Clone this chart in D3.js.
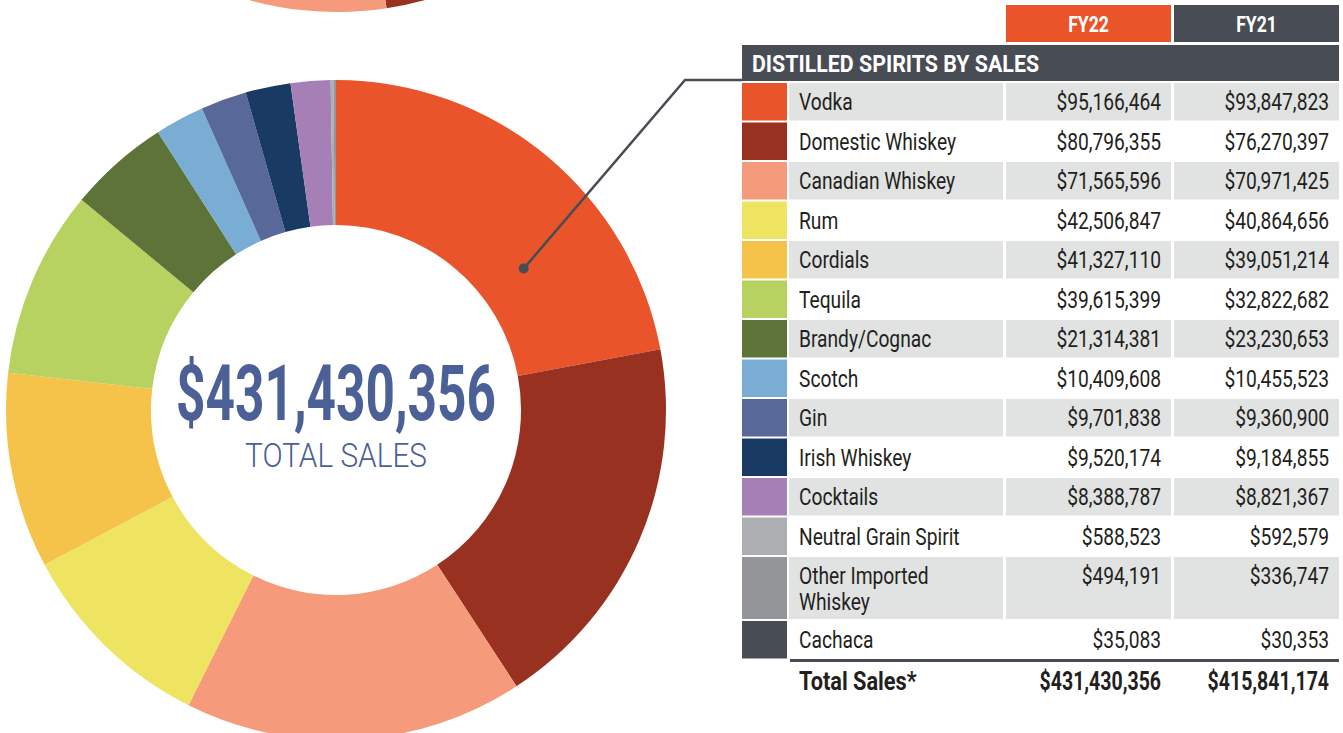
<!DOCTYPE html>
<html>
<head>
<meta charset="utf-8">
<script src="https://cdn.jsdelivr.net/npm/d3@7"></script>
<style>
  body { margin: 0; background: #fff; }
  svg { display: block; font-family: Roboto, "Liberation Sans", sans-serif; }
</style>
</head>
<body>
<svg id="chart" width="1343" height="733"></svg>
<script>
// spirits, in the order they go round the ring (clockwise from 12 o'clock)
const categories = [
  "Vodka", "Domestic Whiskey", "Canadian Whiskey", "Rum", "Cordials", "Tequila",
  "Brandy/Cognac", "Scotch", "Gin", "Irish Whiskey", "Cocktails",
  "Neutral Grain Spirit", "Other Imported\nWhiskey", "Cachaca"
];
const fy22Sales = [
  95166464, 80796355, 71565596, 42506847, 41327110, 39615399,
  21314381, 10409608, 9701838, 9520174, 8388787, 588523, 494191, 35083
];
const fy21Sales = [
  93847823, 76270397, 70971425, 40864656, 39051214, 32822682,
  23230653, 10455523, 9360900, 9184855, 8821367, 592579, 336747, 30353
];
const sliceColors = [
  "#e9542a", "#983120", "#f59a7b", "#efe462", "#f5c34a", "#b7d260",
  "#5e7337", "#7aadd4", "#586899", "#183a63", "#a67fb6",
  "#adaeb1", "#939598", "#474c55"
];
const columnHeads = ["FY22", "FY21"];
const tableTitle = "DISTILLED SPIRITS BY SALES";
const totalLabel = "Total Sales*";
const centerLabel = "TOTAL SALES";

// bottom edge of the previous page chart peeking in at the top (shares, %)
const upperShares = [28.0, 19.6, 16.0, 36.4];
const upperColors = ["#e9542a", "#983120", "#f59a7b", "#efe462"];

const data = categories.map((name, i) => ({
  name: name,
  fy22: fy22Sales[i],
  fy21: fy21Sales[i],
  color: sliceColors[i]
}));

const fmt = d3.format("$,");
const svg = d3.select("#chart");

const INK = "#231f20";
const DARK = "#474c55";
const ROW_GRAY = "#e1e3e2";
const BLUE = "#4b6096";
const SQ = 0.8; // no condensed face installed, so squeeze horizontally

// condensed text helper
function label(g, x, y, str, size, weight, anchor, fill, sq) {
  return g.append("text")
    .attr("transform", `translate(${x},${y}) scale(${sq || SQ},1)`)
    .attr("text-anchor", anchor || "start")
    .style("font-size", size + "px")
    .style("font-weight", weight || "normal")
    .style("fill", fill || INK)
    .text(str);
}

// ---- donut
const CX = 336, CY = 410, R_OUT = 330, R_IN = 185;

const pie = d3.pie().sort(null).value(d => d.fy22);
const arc = d3.arc().innerRadius(R_IN).outerRadius(R_OUT);

// the one from above
const upperG = svg.append("g").attr("transform", `translate(${CX + 1},${CY - 728})`);
upperG.selectAll("path")
  .data(d3.pie().sort(null)(upperShares))
  .enter().append("path")
  .attr("d", arc)
  .attr("fill", (d, i) => upperColors[i]);

const ring = svg.append("g").attr("transform", `translate(${CX},${CY})`);
ring.selectAll("path.slice")
  .data(pie(data))
  .enter().append("path")
  .attr("class", "slice")
  .attr("d", arc)
  .attr("fill", d => d.data.color);

const grandTotal = d3.sum(fy22Sales);
ring.append("text")
  .attr("text-anchor", "middle")
  .attr("y", 10)
  .attr("textLength", 320)
  .attr("lengthAdjust", "spacingAndGlyphs")
  .style("font-size", "77px")
  .style("font-weight", "bold")
  .style("fill", BLUE)
  .text(fmt(grandTotal));
ring.append("text")
  .attr("text-anchor", "middle")
  .attr("y", 57)
  .attr("textLength", 182)
  .attr("lengthAdjust", "spacingAndGlyphs")
  .style("font-size", "33px")
  .style("font-weight", 300)
  .style("fill", BLUE)
  .text(centerLabel);

// ---- table
const X_SWATCH = 742, W_SWATCH = 45;
const X_LABEL = 789, W_LABEL = 214;
const colX = [1006, 1174], W_COL = 165;
const TABLE_RIGHT = 1339;
const ROW_TOP = 83, ROW_H = 37.5, GAP = 2;
const FS = 24;

// column heads
columnHeads.forEach((h, i) => {
  svg.append("rect")
    .attr("x", colX[i]).attr("y", 5)
    .attr("width", W_COL).attr("height", 37)
    .attr("fill", i === 0 ? sliceColors[0] : DARK);
  label(svg, colX[i] + W_COL / 2, 32, h, 22, "bold", "middle", "#fff");
});

svg.append("rect")
  .attr("x", X_SWATCH).attr("y", 45)
  .attr("width", TABLE_RIGHT - X_SWATCH).attr("height", 36)
  .attr("fill", DARK);
label(svg, 752, 72, tableTitle, 24, "bold", "start", "#fff", 0.89);

// row positions (wrapped label -> taller row)
let y = ROW_TOP;
data.forEach(d => {
  d.lines = d.name.split("\n");
  d.h = d.lines.length > 1 ? 62 : ROW_H;
  d.y = y;
  y += d.h + GAP;
});

const rows = svg.selectAll("g.row")
  .data(data)
  .enter().append("g")
  .attr("class", "row")
  .attr("transform", d => `translate(0,${d.y})`);

rows.append("rect")
  .attr("x", X_SWATCH).attr("width", W_SWATCH)
  .attr("height", d => d.h)
  .attr("fill", d => d.color);

rows.each(function(d, i) {
  if (i % 2 === 1) return;
  const g = d3.select(this);
  g.append("rect").attr("x", X_LABEL).attr("width", W_LABEL).attr("height", d.h).attr("fill", ROW_GRAY);
  colX.forEach(x => {
    g.append("rect").attr("x", x).attr("width", W_COL).attr("height", d.h).attr("fill", ROW_GRAY);
  });
});

rows.each(function(d) {
  const g = d3.select(this);
  d.lines.forEach((line, k) => label(g, 799, 27 + k * 26, line, FS));
  [d.fy22, d.fy21].forEach((v, k) => label(g, colX[k] + W_COL - 10, 27, fmt(v), FS, "normal", "end"));
});

// total row
const last = data[data.length - 1];
const lineY = last.y + last.h + 2;
svg.append("line")
  .attr("x1", X_LABEL + 1).attr("x2", TABLE_RIGHT)
  .attr("y1", lineY).attr("y2", lineY)
  .attr("stroke", DARK).attr("stroke-width", 3);

const totalRow = svg.append("g").attr("transform", `translate(0,${lineY + 29})`);
label(totalRow, 799, 0, totalLabel, 25, "bold", "start", INK, 0.87);
[d3.sum(fy22Sales), d3.sum(fy21Sales)].forEach((v, k) =>
  label(totalRow, colX[k] + W_COL - 10, 0, fmt(v), 25, "bold", "end", INK, 0.78));

// leader from vodka slice to the table
const ang = 53 * Math.PI / 180, rDot = 235;
const dot = [CX + rDot * Math.sin(ang), CY - rDot * Math.cos(ang)];
svg.append("path")
  .attr("d", d3.line()([dot, [685, 80], [X_SWATCH, 80]]))
  .attr("fill", "none")
  .attr("stroke", DARK)
  .attr("stroke-width", 2.5);
svg.append("circle")
  .attr("cx", dot[0]).attr("cy", dot[1]).attr("r", 5)
  .attr("fill", DARK);
</script>
</body>
</html>
